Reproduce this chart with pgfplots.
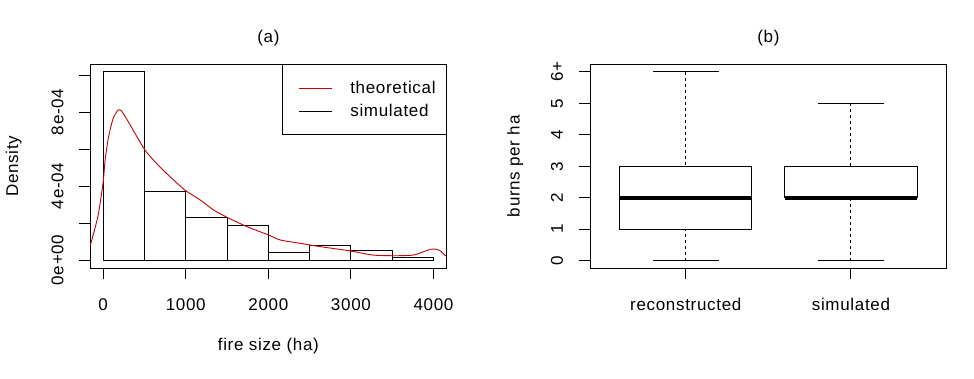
\documentclass[border=0pt]{standalone}
\usepackage{fontspec}
\setmainfont{Liberation Sans}[LetterSpace=4]
\usepackage{pgfplots}
\pgfplotsset{compat=1.18}
\usepgfplotslibrary{statistics}
\definecolor{rred}{RGB}{200,0,0}
\pgfplotsset{
  rstyle/.style={
    scale only axis, width=356.7bp, height=204bp, anchor=south west,
    font=\fontsize{17bp}{20bp}\selectfont,
    /pgf/number format/assume math mode=true,
    scaled y ticks=false, scaled x ticks=false,
    axis line style={line width=0.9bp},
    tick style={line width=0.9bp, black},
    tick align=outside, major tick length=11bp,
    xtick pos=bottom, ytick pos=left,
    xticklabel style={anchor=center, yshift=-25bp},
    title style={at={(0.5,1)}, anchor=center, yshift=20.6bp},
  },
}
\begin{document}
\begin{tikzpicture}
\useasboundingbox (0,0) rectangle (974bp,379bp);
% ---------------- (a)
\begin{axis}[rstyle, at={(90bp,110.7bp)},
  title={(a)},
  xmin=-160, xmax=4160, ymin=-4.5e-5, ymax=1.058e-3,
  xtick={0,1000,2000,3000,4000},
  xticklabels={0,1000,2000,3000,4000},
  ytick={0,2e-4,4e-4,6e-4,8e-4,1e-3},
  yticklabels={0e+00,,4e-04,,8e-04,},
  yticklabel style={xshift=-21.5bp, rotate=90, anchor=center},
  xlabel={fire size (ha)},
  xlabel style={at={(axis description cs:0.5,0)}, anchor=center, yshift=-78bp},
  ylabel={Density},
  ylabel style={at={(axis description cs:-0.2139,0.5)}, anchor=center},
  legend style={at={(1,1)}, anchor=north east, draw=black, line width=0.9bp,
    inner xsep=8.7bp, inner ysep=14.4bp, font=\fontsize{17bp}{20bp}\selectfont,
    row sep=5.3bp, cells={anchor=west}},
  legend image code/.code={\path (0bp,0bp); \draw[#1] (7.3bp,0bp) -- (40.3bp,0bp);},
]
\addplot[ybar interval, draw=black, fill=none, line width=0.9bp, forget plot] coordinates {
 (0,1.02e-3) (500,3.73e-4) (1000,2.31e-4) (1500,1.89e-4) (2000,4.0e-5)
 (2500,7.6e-5) (3000,4.9e-5) (3500,1.2e-5) (4000,1.2e-5)};
\addplot[rred, line width=0.9bp, smooth, tension=0.4] coordinates {
 (-160,8.5e-5) (-149,9.0e-5) (-61,2.43e-4) (0,4.23e-4) (21,5.31e-4) (61,6.58e-4)
 (121,7.66e-4) (182,8.11e-4) (222,8.05e-4) (303,7.48e-4) (384,6.85e-4)
 (505,5.95e-4) (627,5.31e-4) (788,4.59e-4) (990,3.78e-4) (1176,3.24e-4)
 (1337,2.70e-4) (1499,2.31e-4) (1742,1.80e-4) (2004,1.35e-4) (2145,1.08e-4)
 (2388,9.0e-5) (2630,7.2e-5) (2994,4.9e-5) (3257,2.7e-5) (3519,2.3e-5)
 (3762,2.7e-5) (3964,5.8e-5) (4064,5.4e-5) (4166,1.5e-5)};
\addlegendentry{\hspace{16.1bp}theoretical}
\addlegendimage{black, line width=0.9bp}
\addlegendentry{\hspace{16.1bp}simulated}
\end{axis}
% ---------------- (b)
\begin{axis}[rstyle, at={(590bp,110.7bp)},
  title={(b)},
  xmin=0.42, xmax=2.58, ymin=-0.24, ymax=6.24,
  xtick={1,2}, xticklabels={reconstructed,simulated},
  ytick={0,1,2,3,4,5,6}, yticklabels={0,1,2,3,4,5,6+},
  yticklabel style={xshift=-22bp, rotate=90, anchor=center},
  ylabel={burns per ha},
  ylabel style={at={(axis description cs:-0.2094,0.5)}, anchor=center},
  boxplot/draw direction=y,
  boxplot/box extend=0.8,
  boxplot/whisker extend=0.4,
  boxplot/every median/.style={line width=3.6bp},
  boxplot/draw/lower whisker/.code={%
    \draw[dashed] (boxplot cs:\pgfplotsboxplotvalue{lower whisker}) -- (boxplot cs:\pgfplotsboxplotvalue{lower quartile});
    \draw[solid] (boxplot whisker cs:\pgfplotsboxplotvalue{lower whisker},0) -- (boxplot whisker cs:\pgfplotsboxplotvalue{lower whisker},1);},
  boxplot/draw/upper whisker/.code={%
    \draw[dashed] (boxplot cs:\pgfplotsboxplotvalue{upper whisker}) -- (boxplot cs:\pgfplotsboxplotvalue{upper quartile});
    \draw[solid] (boxplot whisker cs:\pgfplotsboxplotvalue{upper whisker},0) -- (boxplot whisker cs:\pgfplotsboxplotvalue{upper whisker},1);},
]
\addplot[black, line width=0.9bp, boxplot prepared={draw position=1,
  lower whisker=0, lower quartile=1, median=2, upper quartile=3, upper whisker=6}]
  coordinates {};
\addplot[black, line width=0.9bp, boxplot prepared={draw position=2,
  lower whisker=0, lower quartile=2, median=2, upper quartile=3, upper whisker=5}]
  coordinates {};
\end{axis}
\end{tikzpicture}
\end{document}
